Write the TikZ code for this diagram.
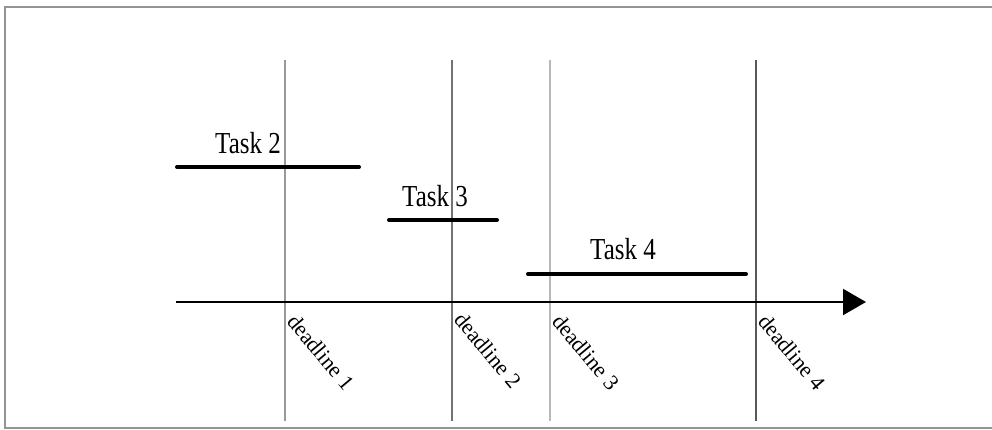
\documentclass[tikz,border=0pt]{standalone}
\usepackage{fontspec}
\setmainfont{Liberation Serif}
\usetikzlibrary{arrows.meta}
\newcommand{\tallt}[1]{\scalebox{1}[1.22]{#1}}
\tikzset{
  frame/.style={draw=black!42, line width=2pt},
  deadline/.style={line width=1.3pt},
  taskbar/.style={line width=4pt, line cap=round},
  axis/.style={line width=2pt, -{Triangle[length=23pt,width=26pt]}},
  tasklabel/.style={inner sep=0pt, anchor=base west, font=\fontsize{25}{28}\selectfont},
  dlabel/.style={inner sep=0pt, anchor=base west, rotate=-50, font=\fontsize{22}{24}\selectfont}
}
\begin{document}
\begin{tikzpicture}[x=1pt,y=-1pt]
\useasboundingbox (0,0) rectangle (992,430);
\fill[white] (0,0) rectangle (992,430);
\draw[frame] (5,7) rectangle (1005,428);
% deadline lines
\coordinate (d1t) at (285,60); \coordinate (d1b) at (285,421);
\coordinate (d2t) at (452,60); \coordinate (d2b) at (452,421);
\coordinate (d3t) at (550,60); \coordinate (d3b) at (550,421);
\coordinate (d4t) at (756,60); \coordinate (d4b) at (756,421);
\draw[deadline, draw=black!40] (d1t) -- (d1b);
\draw[deadline, draw=black!55] (d2t) -- (d2b);
\draw[deadline, draw=black!28] (d3t) -- (d3b);
\draw[deadline, draw=black!65] (d4t) -- (d4b);
% axis
\coordinate (ax0) at (176,302);
\coordinate (ax1) at (866,302);
\draw[axis] (ax0) -- (ax1);
% task bars
\coordinate (t2a) at (177,167); \coordinate (t2b) at (359,167);
\coordinate (t3a) at (389,220); \coordinate (t3b) at (497,220);
\coordinate (t4a) at (528,274); \coordinate (t4b) at (746,274);
\draw[taskbar] (t2a) -- (t2b);
\draw[taskbar] (t3a) -- (t3b);
\draw[taskbar] (t4a) -- (t4b);
% task labels
\node[tasklabel] (L2) at (215,154) {\tallt{Task 2}};
\node[tasklabel] (L3) at (402,207) {\tallt{Task 3}};
\node[tasklabel] (L4) at (590,259) {\tallt{Task 4}};
% deadline labels
\node[dlabel] (D1) at (286,322) {deadline 1};
\node[dlabel] (D2) at (453,320) {deadline 2};
\node[dlabel] (D3) at (551,322) {deadline 3};
\node[dlabel] (D4) at (757,322) {deadline 4};
\end{tikzpicture}
\end{document}
